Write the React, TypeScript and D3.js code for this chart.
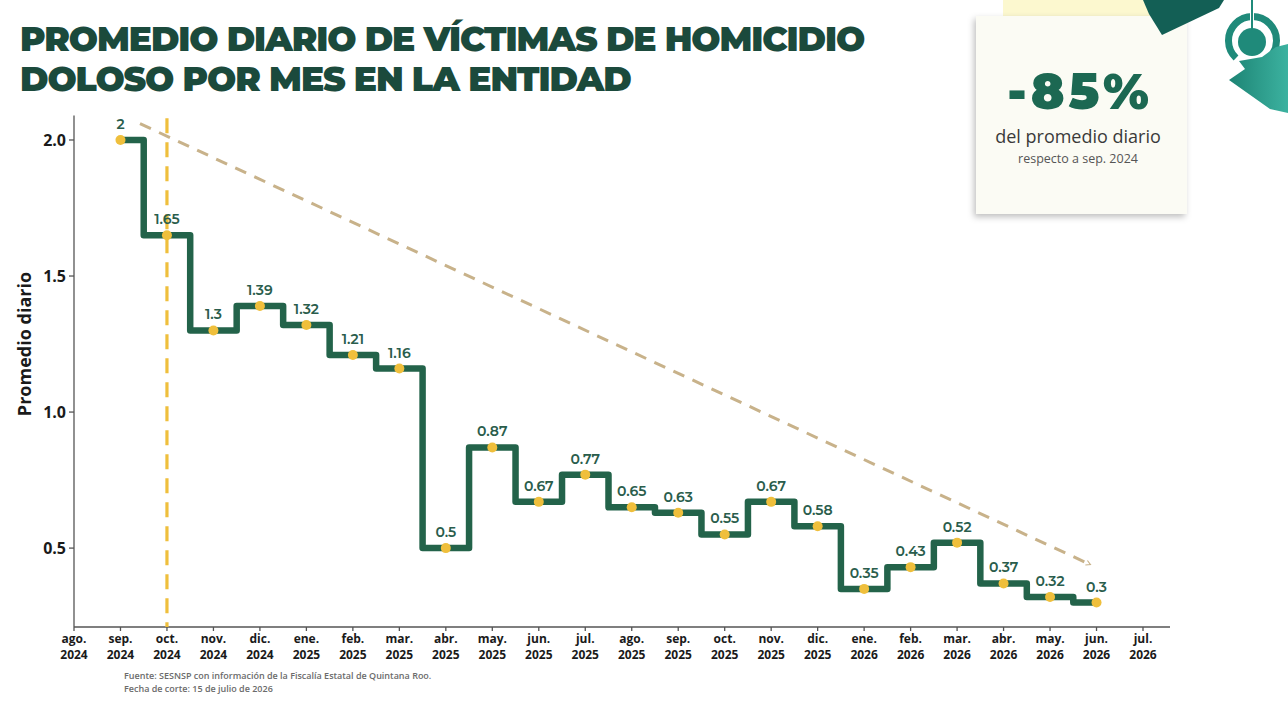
import React from "react";
import * as d3 from "d3";

// meses del eje x (ago. 2024 - jul. 2026)
const monthLabels = [
  "ago.", "sep.", "oct.", "nov.", "dic.", "ene.", "feb.", "mar.", "abr.", "may.", "jun.", "jul.",
  "ago.", "sep.", "oct.", "nov.", "dic.", "ene.", "feb.", "mar.", "abr.", "may.", "jun.", "jul.",
];
const yearLabels = [
  "2024", "2024", "2024", "2024", "2024", "2025", "2025", "2025", "2025", "2025", "2025", "2025",
  "2025", "2025", "2025", "2025", "2025", "2026", "2026", "2026", "2026", "2026", "2026", "2026",
];
// promedio diario, de sep. 2024 (indice 1) a jun. 2026 (indice 22)
const values = [2, 1.65, 1.3, 1.39, 1.32, 1.21, 1.16, 0.5, 0.87, 0.67, 0.77, 0.65, 0.63, 0.55, 0.67, 0.58, 0.35, 0.43, 0.52, 0.37, 0.32, 0.3];
const valueLabels = ["2", "1.65", "1.3", "1.39", "1.32", "1.21", "1.16", "0.5", "0.87", "0.67", "0.77", "0.65", "0.63", "0.55", "0.67", "0.58", "0.35", "0.43", "0.52", "0.37", "0.32", "0.3"];
const firstIndex = 1;
const yTicks = [0.5, 1.0, 1.5, 2.0];
const markerIndex = 2; // oct. 2024
// linea de tendencia (indice de mes, valor)
const trendStart = [1.42, 2.06];
const trendEnd = [21.86, 0.44];

const W = 1288;
const H = 715;

const green = "#23634a";
const dark = "#1b4a3c";
const yellow = "#efbf3c";

const App = () => {
  const x = d3.scaleLinear().domain([0, 23]).range([74, 1143]);
  const y = d3.scaleLinear().domain([0.21, 2.09]).range([627, 115.5]);

  const pts = values.map((v, i) => [x(i + firstIndex), y(v)] as [number, number]);
  const step = d3.line().curve(d3.curveStep)(pts) || "";
  const font = "Montserrat, Inter, 'Open Sans', sans-serif";

  return (
    <svg width={W} height={H} style={{ position: "absolute", left: 0, top: 0, background: "#ffffff" }}>
      <defs>
        <marker id="arr" viewBox="0 0 12 12" refX="9" refY="6" markerWidth="6" markerHeight="6" orient="auto" markerUnits="userSpaceOnUse">
          <path d="M1,1 L10,6 L1,11" fill="none" stroke="#c8b28a" strokeWidth="2.2" />
        </marker>
        <linearGradient id="teal" x1="0" x2="1" y1="0" y2="0">
          <stop offset="0" stopColor="#1d8474" />
          <stop offset="1" stopColor="#3cb2a0" />
        </linearGradient>
        <filter id="shadow" x="-10%" y="-10%" width="120%" height="125%">
          <feDropShadow dx="-2" dy="3" stdDeviation="3" floodColor="#000" floodOpacity="0.25" />
        </filter>
      </defs>

      {/* titulo */}
      <g fontFamily={font} fontWeight={900} fill={dark} fontSize={34.5} letterSpacing="-1.1">
        <text x={20} y={51}>PROMEDIO DIARIO DE VÍCTIMAS DE HOMICIDIO</text>
        <text x={20} y={91}>DOLOSO POR MES EN LA ENTIDAD</text>
      </g>

      {/* tarjeta */}
      <rect x={1003} y={0} width={155} height={32} fill="#fcf8cf" />
      <rect x={976} y={16} width={211} height={198} fill="#fbfbf4" filter="url(#shadow)" />
      <text x={1080} y={109} textAnchor="middle" fontFamily={font} fontWeight={900} fontSize={50} fill="#1c6852" letterSpacing="4">-85%</text>
      <text x={1078} y={143} textAnchor="middle" fontFamily="'Open Sans', sans-serif" fontWeight={500} fontSize={18} fill="#3a3a3a">del promedio diario</text>
      <text x={1078} y={163} textAnchor="middle" fontFamily="'Open Sans', sans-serif" fontSize={12.5} fill="#555">respecto a sep. 2024</text>

      {/* logo */}
      <polygon points="1143,0 1224,0 1219,8 1162,35 1149,14" fill="#135f55" />
      <path d="M1236,58 A24,24 0 1,1 1269,58" fill="none" stroke="#1f8a7a" strokeWidth={7} />
      <line x1={1252} y1={0} x2={1252} y2={30} stroke="#ffffff" strokeWidth={4} />
      <line x1={1252} y1={0} x2={1252} y2={30} stroke="#1f8a7a" strokeWidth={2} />
      <circle cx={1252} cy={42} r={14} fill="#1f8a7a" />
      <polygon points="1229,80 1245,69 1239,61 1262,57 1276,47 1288,44 1288,113 1270,109" fill="url(#teal)" />

      {/* eje y */}
      <line x1={x(0)} x2={x(0)} y1={y(2.09)} y2={y(0.21)} stroke="#555" strokeWidth={1.3} />
      {yTicks.map((t) => (
        <g key={t}>
          <line x1={x(0) - 5} x2={x(0)} y1={y(t)} y2={y(t)} stroke="#555" strokeWidth={1.3} />
          <text x={x(0) - 8} y={y(t) + 6} textAnchor="end" fontFamily="'Open Sans', sans-serif" fontWeight={700} fontSize={16} fill="#1a1a1a">{t.toFixed(1)}</text>
        </g>
      ))}
      <text transform={`translate(31,${y(1.25)}) rotate(-90)`} textAnchor="middle" fontFamily="'Open Sans', sans-serif" fontWeight={700} fontSize={18} fill="#1a1a1a">Promedio diario</text>

      {/* eje x */}
      <line x1={x(0)} x2={x(23) + 27} y1={y(0.21)} y2={y(0.21)} stroke="#555" strokeWidth={1.3} />
      {monthLabels.map((m, i) => (
        <g key={i}>
          <line x1={x(i)} x2={x(i)} y1={y(0.21)} y2={y(0.21) + 4} stroke="#555" strokeWidth={1.3} />
          <text x={x(i)} y={y(0.21) + 16} textAnchor="middle" fontFamily="'Open Sans', sans-serif" fontWeight={700} fontSize={12} fill="#1a1a1a">{m}</text>
          <text x={x(i)} y={y(0.21) + 32} textAnchor="middle" fontFamily="'Open Sans', sans-serif" fontWeight={700} fontSize={12} fill="#1a1a1a">{yearLabels[i]}</text>
        </g>
      ))}

      {/* linea vertical oct. 2024 */}
      <line x1={x(markerIndex)} x2={x(markerIndex)} y1={y(2.08)} y2={y(0.21)} stroke={yellow} strokeWidth={3.2} strokeDasharray="15,9" />

      {/* tendencia */}
      <line
        x1={x(trendStart[0])} y1={y(trendStart[1])} x2={x(trendEnd[0])} y2={y(trendEnd[1])}
        stroke="#c8b28a" strokeWidth={3} strokeDasharray="12,9" markerEnd="url(#arr)"
      />

      {/* escalones */}
      <path d={step} fill="none" stroke={green} strokeWidth={6.5} strokeLinejoin="round" strokeLinecap="round" />
      {pts.map((p, i) => (
        <circle key={i} cx={p[0]} cy={p[1]} r={5} fill={yellow} />
      ))}
      {pts.map((p, i) => (
        <text key={i} x={p[0]} y={p[1] - 11} textAnchor="middle" fontFamily={font} fontWeight={600} fontSize={14} fill="#2a5d4c">{valueLabels[i]}</text>
      ))}

      {/* fuente */}
      <g fontFamily="'Open Sans', sans-serif" fontWeight={600} fontSize={9} fill="#6b6b6b">
        <text x={124} y={679}>Fuente: SESNSP con información de la Fiscalía Estatal de Quintana Roo.</text>
        <text x={124} y={692}>Fecha de corte: 15 de julio de 2026</text>
      </g>
    </svg>
  );
};

export default App;
